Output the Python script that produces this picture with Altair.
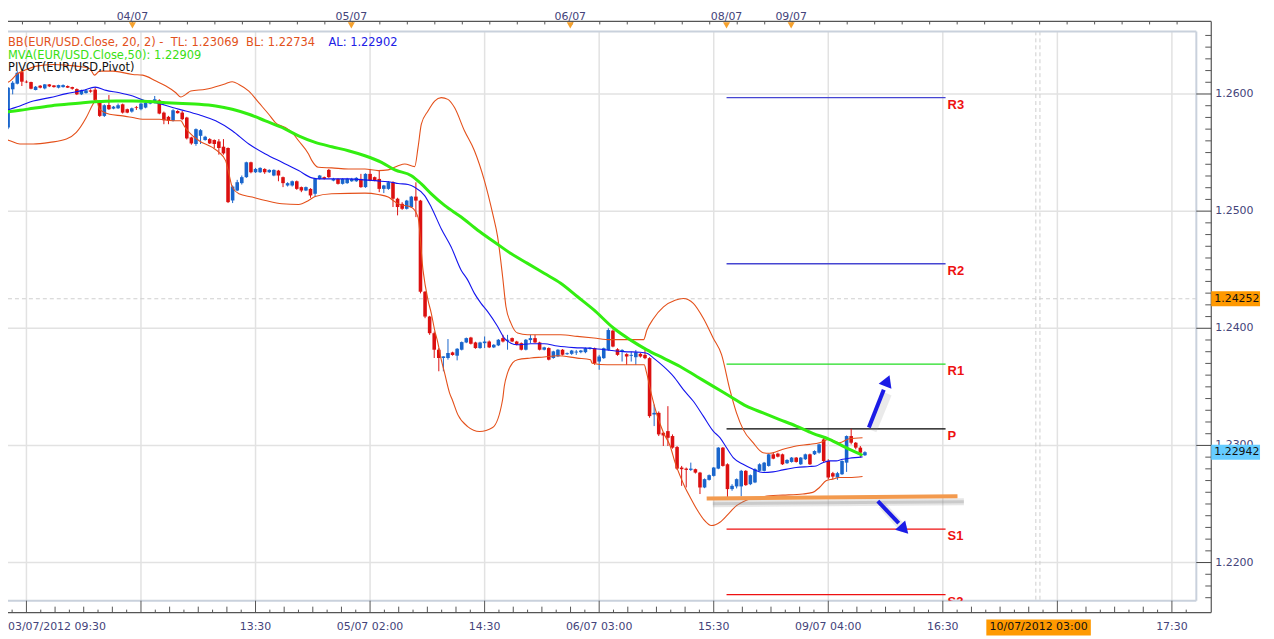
import altair as alt
import pandas as pd

# ---------------- data ----------------
bar_open = [1.25841, 1.25714, 1.26040, 1.26088, 1.26187, 1.26105, 1.26102, 1.26034, 1.26071, 1.26048,
 1.26082, 1.26073, 1.26054, 1.26059, 1.26068, 1.26059, 1.26042, 1.25997, 1.26008, 1.26031,
 1.26037, 1.25940, 1.25813, 1.25906, 1.25875, 1.25878, 1.25912, 1.25870, 1.25850, 1.25887,
 1.25870, 1.25884, 1.25918, 1.25926, 1.25946, 1.25841, 1.25805, 1.25771, 1.25855, 1.25841,
 1.25799, 1.25629, 1.25573, 1.25643, 1.25607, 1.25615, 1.25607, 1.25595, 1.25550, 1.25539,
 1.25091, 1.25176, 1.25239, 1.25290, 1.25417, 1.25332, 1.25332, 1.25360, 1.25332, 1.25304,
 1.25346, 1.25290, 1.25219, 1.25219, 1.25255, 1.25205, 1.25176, 1.25190, 1.25148, 1.25275,
 1.25290, 1.25352, 1.25261, 1.25275, 1.25233, 1.25239, 1.25255, 1.25255, 1.25275, 1.25205,
 1.25318, 1.25290, 1.25275, 1.25190, 1.25190, 1.25247, 1.25106, 1.25062, 1.25020, 1.25034,
 1.25124, 1.25090, 1.24312, 1.24100, 1.23958, 1.23817, 1.23746, 1.23746, 1.23794, 1.23766,
 1.23817, 1.23879, 1.23921, 1.23879, 1.23831, 1.23873, 1.23887, 1.23837, 1.23854, 1.23916,
 1.23893, 1.23916, 1.23887, 1.23873, 1.23817, 1.23899, 1.23916, 1.23879, 1.23817, 1.23831,
 1.23746, 1.23760, 1.23817, 1.23779, 1.23782, 1.23793, 1.23796, 1.23796, 1.23824, 1.23830,
 1.23716, 1.23745, 1.23815, 1.23980, 1.23821, 1.23801, 1.23779, 1.23765, 1.23753, 1.23782,
 1.23773, 1.23745, 1.23264, 1.23278, 1.23108, 1.23122, 1.23080, 1.22986, 1.22811, 1.22802,
 1.22791, 1.22797, 1.22768, 1.22641, 1.22706, 1.22740, 1.22802, 1.22981, 1.22839, 1.22627,
 1.22650, 1.22650, 1.22783, 1.22669, 1.22684, 1.22783, 1.22783, 1.22825, 1.22924, 1.22930,
 1.22924, 1.22848, 1.22859, 1.22896, 1.22839, 1.22882, 1.22924, 1.22924, 1.22938, 1.23051,
 1.22867, 1.22763, 1.22726, 1.22754, 1.22853, 1.23080, 1.23023, 1.22981, 1.22916]

bar_high = [1.25855, 1.26059, 1.26110, 1.26195, 1.26195, 1.26116, 1.26105, 1.26068, 1.26076, 1.26085,
 1.26085, 1.26076, 1.26079, 1.26082, 1.26073, 1.26062, 1.26048, 1.26037, 1.26040, 1.26040,
 1.26059, 1.25946, 1.25912, 1.25991, 1.25898, 1.25918, 1.25918, 1.25875, 1.25884, 1.25898,
 1.25926, 1.25935, 1.25946, 1.25983, 1.25955, 1.25850, 1.25813, 1.25870, 1.25861, 1.25855,
 1.25805, 1.25635, 1.25706, 1.25700, 1.25643, 1.25623, 1.25612, 1.25615, 1.25615, 1.25544,
 1.25219, 1.25267, 1.25304, 1.25422, 1.25422, 1.25369, 1.25374, 1.25366, 1.25357, 1.25357,
 1.25352, 1.25295, 1.25247, 1.25261, 1.25261, 1.25210, 1.25210, 1.25196, 1.25284, 1.25309,
 1.25295, 1.25360, 1.25284, 1.25281, 1.25281, 1.25284, 1.25284, 1.25290, 1.25318, 1.25323,
 1.25360, 1.25295, 1.25346, 1.25224, 1.25255, 1.25255, 1.25114, 1.25076, 1.25096, 1.25130,
 1.25246, 1.25096, 1.24318, 1.24106, 1.23972, 1.23831, 1.23760, 1.23908, 1.23800, 1.23831,
 1.23887, 1.23921, 1.23927, 1.23885, 1.23885, 1.23930, 1.23896, 1.23865, 1.23908, 1.23944,
 1.23944, 1.23921, 1.23893, 1.23879, 1.23908, 1.23944, 1.23944, 1.23885, 1.23842, 1.23837,
 1.23808, 1.23822, 1.23822, 1.23793, 1.23815, 1.23815, 1.23815, 1.23835, 1.23838, 1.23835,
 1.23773, 1.23835, 1.24000, 1.23990, 1.23830, 1.23821, 1.23787, 1.23801, 1.23815, 1.23790,
 1.23821, 1.23753, 1.23349, 1.23290, 1.23113, 1.23335, 1.23094, 1.22995, 1.22825, 1.22811,
 1.22853, 1.22802, 1.22774, 1.22718, 1.22752, 1.22816, 1.22986, 1.22986, 1.22847, 1.22669,
 1.22718, 1.22791, 1.22789, 1.22752, 1.22805, 1.22847, 1.22859, 1.22930, 1.22944, 1.22938,
 1.22930, 1.22882, 1.22901, 1.22901, 1.22901, 1.22930, 1.22930, 1.22958, 1.23015, 1.23066,
 1.22882, 1.22774, 1.22774, 1.22873, 1.23085, 1.23142, 1.23029, 1.22995, 1.22950]

bar_low = [1.25657, 1.25700, 1.25997, 1.26082, 1.26068, 1.26093, 1.26040, 1.26031, 1.26048, 1.26040,
 1.26059, 1.26054, 1.26048, 1.26054, 1.26051, 1.26037, 1.25991, 1.25991, 1.26003, 1.26011,
 1.25940, 1.25804, 1.25804, 1.25864, 1.25870, 1.25872, 1.25833, 1.25836, 1.25841, 1.25864,
 1.25861, 1.25878, 1.25912, 1.25921, 1.25827, 1.25742, 1.25742, 1.25765, 1.25833, 1.25776,
 1.25612, 1.25567, 1.25558, 1.25573, 1.25601, 1.25573, 1.25539, 1.25482, 1.25482, 1.25069,
 1.25069, 1.25171, 1.25227, 1.25284, 1.25323, 1.25326, 1.25326, 1.25318, 1.25326, 1.25298,
 1.25255, 1.25205, 1.25210, 1.25210, 1.25182, 1.25162, 1.25171, 1.25114, 1.25120, 1.25270,
 1.25270, 1.25284, 1.25255, 1.25227, 1.25227, 1.25233, 1.25250, 1.25250, 1.25199, 1.25199,
 1.25255, 1.25255, 1.25162, 1.25154, 1.25182, 1.25035, 1.24964, 1.25011, 1.25014, 1.25028,
 1.24949, 1.24298, 1.24086, 1.23944, 1.23746, 1.23633, 1.23633, 1.23732, 1.23766, 1.23726,
 1.23811, 1.23873, 1.23862, 1.23825, 1.23825, 1.23831, 1.23831, 1.23831, 1.23848, 1.23879,
 1.23817, 1.23882, 1.23854, 1.23811, 1.23811, 1.23873, 1.23873, 1.23811, 1.23811, 1.23726,
 1.23740, 1.23754, 1.23768, 1.23773, 1.23773, 1.23773, 1.23787, 1.23787, 1.23818, 1.23688,
 1.23646, 1.23739, 1.23810, 1.23838, 1.23765, 1.23716, 1.23688, 1.23716, 1.23688, 1.23750,
 1.23736, 1.23236, 1.23165, 1.23080, 1.22995, 1.22995, 1.22972, 1.22790, 1.22655, 1.22641,
 1.22782, 1.22760, 1.22585, 1.22635, 1.22700, 1.22734, 1.22797, 1.22819, 1.22556, 1.22613,
 1.22633, 1.22565, 1.22655, 1.22661, 1.22678, 1.22777, 1.22777, 1.22819, 1.22882, 1.22898,
 1.22833, 1.22842, 1.22853, 1.22853, 1.22833, 1.22876, 1.22833, 1.22918, 1.22930, 1.22853,
 1.22712, 1.22712, 1.22706, 1.22748, 1.22774, 1.23009, 1.22967, 1.22896, 1.22910]

bar_close = [1.25714, 1.26054, 1.26096, 1.26181, 1.26105, 1.26099, 1.26045, 1.26062, 1.26054, 1.26082,
 1.26065, 1.26059, 1.26076, 1.26076, 1.26054, 1.26045, 1.25997, 1.26031, 1.26031, 1.26020,
 1.25946, 1.25813, 1.25904, 1.25870, 1.25892, 1.25904, 1.25841, 1.25841, 1.25878, 1.25881,
 1.25918, 1.25926, 1.25940, 1.25955, 1.25833, 1.25776, 1.25771, 1.25861, 1.25836, 1.25785,
 1.25621, 1.25578, 1.25700, 1.25691, 1.25635, 1.25578, 1.25573, 1.25539, 1.25493, 1.25077,
 1.25210, 1.25247, 1.25290, 1.25417, 1.25332, 1.25360, 1.25369, 1.25332, 1.25352, 1.25352,
 1.25304, 1.25239, 1.25239, 1.25255, 1.25190, 1.25176, 1.25205, 1.25134, 1.25275, 1.25304,
 1.25275, 1.25290, 1.25275, 1.25233, 1.25275, 1.25275, 1.25275, 1.25284, 1.25205, 1.25318,
 1.25261, 1.25261, 1.25190, 1.25219, 1.25247, 1.25106, 1.25035, 1.25020, 1.25090, 1.25124,
 1.25090, 1.24312, 1.24100, 1.23958, 1.23817, 1.23746, 1.23760, 1.23789, 1.23772, 1.23825,
 1.23882, 1.23916, 1.23868, 1.23831, 1.23879, 1.23887, 1.23837, 1.23859, 1.23902, 1.23887,
 1.23902, 1.23887, 1.23859, 1.23817, 1.23902, 1.23916, 1.23879, 1.23817, 1.23837, 1.23732,
 1.23803, 1.23817, 1.23774, 1.23787, 1.23810, 1.23801, 1.23810, 1.23830, 1.23835, 1.23702,
 1.23759, 1.23830, 1.23985, 1.23844, 1.23773, 1.23815, 1.23759, 1.23773, 1.23793, 1.23759,
 1.23745, 1.23250, 1.23278, 1.23094, 1.23085, 1.23065, 1.22981, 1.22802, 1.22797, 1.22791,
 1.22802, 1.22768, 1.22641, 1.22712, 1.22746, 1.22811, 1.22981, 1.22825, 1.22627, 1.22655,
 1.22712, 1.22783, 1.22661, 1.22746, 1.22797, 1.22839, 1.22853, 1.22924, 1.22887, 1.22904,
 1.22839, 1.22876, 1.22896, 1.22859, 1.22896, 1.22924, 1.22839, 1.22952, 1.23009, 1.22867,
 1.22726, 1.22734, 1.22763, 1.22867, 1.23080, 1.23023, 1.22981, 1.22938, 1.22942]

bb_upper_bar = [-0.76, 1.41, 2.86, 5.03, 7.2, 10.82, 15.89, 18.79, 19.87, 20.96, 23.86, 28.2, 30.37, 33.27,
 35.44, 37.61, 38.7, 39.78, 40.87, 44.13, 48.47, 49.92, 51.37, 53.54, 55.71, 57.88, 59.33, 61.5, 62.95,
 64.4, 66.57, 67.3, 68.74, 71.64, 75.26, 78.88, 81.78, 83.95, 86.12, 87.57, 89.74, 90.47, 91.19, 92.64,
 94.09, 95.54, 96.98, 98.43, 100.6, 102.78, 104.95, 106.76, 107.84, 108.93, 109.65, 110.74, 112.19,
 114.36, 117.98, 121.6, 125.22, 128.84, 132.46, 136.8, 139.7, 140.42, 141.87, 144.04, 146.57, 148.38,
 150.55, 152.73, 154.9, 156.71, 158.52, 159.97, 161.42, 163.59, 165.76, 167.21, 170.1, 173.0, 175.9,
 178.07, 180.24, 182.41, 184.58, 187.48]
bb_upper_val = [1.26082, 1.26110, 1.26167, 1.26209, 1.26238, 1.26252, 1.26238, 1.26218, 1.26161, 1.26195,
 1.26195, 1.26167, 1.26161, 1.26110, 1.26068, 1.26011, 1.25974, 1.25997, 1.26025, 1.26040, 1.26088,
 1.26105, 1.26082, 1.26025, 1.25926, 1.25827, 1.25756, 1.25714, 1.25672, 1.25601, 1.25488, 1.25431,
 1.25374, 1.25369, 1.25360, 1.25360, 1.25346, 1.25352, 1.25388, 1.25403, 1.25380, 1.25544, 1.25742,
 1.25855, 1.25940, 1.25969, 1.25954, 1.25884, 1.25686, 1.25516, 1.25261, 1.24978, 1.24780, 1.24440,
 1.24186, 1.24044, 1.23959, 1.23945, 1.23945, 1.23945, 1.23931, 1.23917, 1.23903, 1.23903, 1.23903,
 1.23985, 1.24084, 1.24183, 1.24240, 1.24254, 1.24212, 1.24085, 1.23915, 1.23775, 1.23476, 1.23278,
 1.23137, 1.23023, 1.22938, 1.22933, 1.22967, 1.22995, 1.23009, 1.23023, 1.23052, 1.23023, 1.23057,
 1.23066]

bb_lower_bar = [-0.76, 1.41, 3.58, 6.48, 10.1, 13.72, 15.89, 18.06, 19.51, 20.24, 20.96, 23.13, 26.03,
 28.2, 30.37, 34.0, 36.89, 38.7, 39.42, 40.51, 42.68, 45.58, 47.03, 48.47, 49.2, 49.92, 51.37, 54.27,
 57.16, 60.78, 64.4, 66.57, 68.02, 71.64, 78.88, 81.78, 83.95, 85.03, 86.12, 89.02, 90.46, 91.55,
 92.64, 93.36, 94.08, 94.81, 95.53, 96.26, 97.34, 97.92, 99.15, 101.3, 103.9, 106.75, 108.93, 109.29,
 110.01, 111.1, 112.18, 115.08, 117.98, 120.87, 125.21, 128.11, 128.47, 131.73, 139.84, 140.27, 141.5,
 142.59, 144.04, 145.49, 146.57, 147.66, 148.75, 149.83, 151.28, 152.73, 154.54, 156.35, 158.52,
 159.97, 161.42, 162.86, 165.04, 167.21, 170.1, 174.45, 176.62, 178.07, 179.52, 180.96, 182.41,
 184.58, 187.48]
bb_lower_val = [1.25629, 1.25601, 1.25573, 1.25573, 1.25587, 1.25615, 1.25672, 1.25799, 1.25912, 1.25955,
 1.25870, 1.25827, 1.25813, 1.25799, 1.25785, 1.25785, 1.25771, 1.25771, 1.25728, 1.25672, 1.25601,
 1.25544, 1.25502, 1.25431, 1.25318, 1.25205, 1.25148, 1.25120, 1.25091, 1.25063, 1.25057, 1.25091,
 1.25125, 1.25148, 1.25154, 1.25142, 1.25120, 1.25091, 1.25062, 1.25034, 1.24949, 1.24496, 1.24241,
 1.24128, 1.23987, 1.23873, 1.23732, 1.23619, 1.23449, 1.23392, 1.23263, 1.23161, 1.23119, 1.23153,
 1.23392, 1.23505, 1.23619, 1.23704, 1.23732, 1.23746, 1.23755, 1.23766, 1.23745, 1.23731, 1.23702,
 1.23688, 1.23688, 1.23632, 1.23420, 1.23264, 1.23108, 1.22995, 1.22853, 1.22740, 1.22641, 1.22560,
 1.22457, 1.22372, 1.22316, 1.22344, 1.22429, 1.22486, 1.22520, 1.22542, 1.22556, 1.22571, 1.22576,
 1.22585, 1.22599, 1.22641, 1.22698, 1.22712, 1.22726, 1.22726, 1.22734]

sma20_bar = [-0.76, 1.41, 3.58, 6.48, 10.1, 13.72, 17.34, 20.02, 22.41, 25.3, 28.2, 31.1, 34.0, 36.89,
 39.78, 42.68, 46.3, 49.92, 53.54, 57.16, 60.78, 64.4, 67.3, 68.74, 71.64, 75.26, 78.88, 82.5, 84.67,
 86.12, 88.29, 89.74, 91.91, 93.36, 95.53, 97.7, 99.88, 101.32, 102.77, 104.22, 105.67, 107.84, 109.29,
 110.74, 112.18, 115.08, 117.98, 120.87, 124.49, 128.11, 131.73, 135.35, 138.97, 140.42, 141.87,
 144.04, 146.21, 148.38, 150.56, 152.73, 154.9, 156.35, 157.8, 159.25, 161.42, 163.59, 165.76,
 167.93, 170.1, 173.0, 175.9, 177.35, 178.79, 180.24, 181.69, 183.14, 184.58, 187.48]
sma20_val = [1.25841, 1.25870, 1.25898, 1.25940, 1.25969, 1.26003, 1.26031, 1.26059, 1.26031, 1.26011,
 1.25983, 1.25940, 1.25918, 1.25884, 1.25855, 1.25822, 1.25771, 1.25686, 1.25573, 1.25488, 1.25417,
 1.25346, 1.25284, 1.25275, 1.25275, 1.25275, 1.25267, 1.25255, 1.25247, 1.25236, 1.25227, 1.25204,
 1.25133, 1.25034, 1.24850, 1.24694, 1.24496, 1.24411, 1.24298, 1.24213, 1.24142, 1.24015, 1.23916,
 1.23873, 1.23859, 1.23868, 1.23868, 1.23848, 1.23835, 1.23830, 1.23815, 1.23801, 1.23796, 1.23787,
 1.23745, 1.23674, 1.23589, 1.23476, 1.23377, 1.23250, 1.23122, 1.23066, 1.22980, 1.22896, 1.22839,
 1.22797, 1.22769, 1.22774, 1.22791, 1.22811, 1.22820, 1.22825, 1.22853, 1.22868, 1.22868, 1.22882,
 1.22890, 1.22902]

sma50_bar = [-0.76, 3.58, 6.48, 10.1, 13.72, 17.34, 20.96, 24.58, 28.2, 31.82, 35.44, 39.06, 42.68, 46.3,
 49.92, 53.54, 57.16, 60.78, 64.4, 68.02, 71.64, 75.26, 78.88, 82.5, 85.4, 89.02, 91.19, 93.36, 96.26,
 99.88, 103.5, 107.12, 110.74, 114.36, 117.98, 121.6, 125.22, 128.84, 133.18, 136.8, 140.42, 144.04,
 147.66, 151.28, 154.9, 158.52, 162.14, 165.76, 169.38, 173.0, 176.62, 180.24, 183.86, 187.48]
sma50_val = [1.25841, 1.25861, 1.25878, 1.25898, 1.25912, 1.25926, 1.25935, 1.25940, 1.25940, 1.25935,
 1.25926, 1.25918, 1.25912, 1.25898, 1.25870, 1.25827, 1.25771, 1.25714, 1.25643, 1.25587, 1.25550,
 1.25516, 1.25473, 1.25417, 1.25352, 1.25303, 1.25233, 1.25148, 1.25049, 1.24950, 1.24837, 1.24737,
 1.24638, 1.24554, 1.24469, 1.24384, 1.24271, 1.24157, 1.24000, 1.23901, 1.23816, 1.23745, 1.23674,
 1.23589, 1.23504, 1.23420, 1.23335, 1.23278, 1.23221, 1.23165, 1.23103, 1.23052, 1.22981, 1.22916]

pivot_names = ["R3", "R2", "R1", "P", "S1", "S2"]
pivot_values = [1.25969, 1.24551, 1.23694, 1.23142, 1.22286, 1.21726]
pivot_colors = ["#4646d2", "#4646d2", "#22dd22", "#000000", "#ee1111", "#ee1111"]
pivot_from, pivot_to = 157.8, 205.6

support_bar = [153.46, 208.2]
support_val = [1.22547, 1.22567]
support_shadow_bar = [154.8, 209.6]
support_shadow_val = [1.22502, 1.22519]

arrow_id = ["up", "up", "down", "down"]
arrow_bar = [188.86, 192.11, 190.82, 195.38]
arrow_val = [1.23153, 1.23476, 1.22524, 1.22337]
arrow_shadow_bar = [189.7, 193.0, 191.7, 196.6]
arrow_shadow_val = [1.23125, 1.23440, 1.22490, 1.22280]
head_bar = [192.88, 196.57]
head_val = [1.23552, 1.22282]
head_angle = [22, 137]

price_ticks = [1.22, 1.23, 1.24, 1.25, 1.26]
time_tick_bars = [5, 30, 55, 80, 105, 130, 155, 180, 205, 230, 255]
time_label_bars = [55, 80, 105, 130, 155, 180, 205, 255]
time_labels = ["13:30", "05/07 02:00", "14:30", "06/07 03:00", "15:30", "09/07 04:00", "16:30", "17:30"]
first_time_label = "03/07/2012 09:30"
day_bars = [28.13, 75.91, 123.7, 157.8, 171.9]
day_labels = ["04/07", "05/07", "06/07", "08/07", "09/07"]

cross_price = 1.24252
cross_bars = [225.3, 226.2]
cross_label = "10/07/2012 03:00"
last_price = 1.22942

hdr_bb = "BB(EUR/USD.Close, 20, 2) -\u00a0 TL: 1.23069\u00a0 BL: 1.22734"
hdr_al = "AL: 1.22902"
hdr_mva = "MVA(EUR/USD.Close,50): 1.22909"
hdr_piv = "PIVOT(EUR/USD,Pivot)"

# ---------------- chart ----------------
W, H = 1194, 572
FONT = "DejaVu Sans"
AXC = "#44447a"
XS = alt.Scale(domain=[0.977, 260.33], nice=False, zero=False)
YS = alt.Scale(domain=[1.216746, 1.265344], nice=False, zero=False)


def xq(f="bar"):
    return alt.X(f"{f}:Q", scale=XS, axis=None)


def yq(f="val"):
    return alt.Y(f"{f}:Q", scale=YS, axis=None)


dummy = pd.DataFrame({"k": [0]})


def fixed_rule(color, width, **enc):
    return alt.Chart(dummy).mark_rule(color=color, strokeWidth=width).encode(
        **{k: alt.value(v) for k, v in enc.items()})


def series(xs, ys):
    return pd.DataFrame({"bar": xs, "val": ys})


layers = []

# grid
ptick = pd.DataFrame({"val": price_ticks, "lab": [f"{p:.4f}" for p in price_ticks]})
layers.append(alt.Chart(ptick).mark_rule(color="#e2e2e2", strokeWidth=1.5).encode(y=yq()))
layers.append(alt.Chart(pd.DataFrame({"bar": time_tick_bars})).mark_rule(
    color="#e2e2e2", strokeWidth=1.5).encode(x=xq()))
# crosshair
layers.append(alt.Chart(pd.DataFrame({"val": [cross_price]})).mark_rule(
    color="#cfcfcf", strokeDash=[4, 3], strokeWidth=1).encode(y=yq()))
layers.append(alt.Chart(pd.DataFrame({"bar": cross_bars})).mark_rule(
    color="#cfcfcf", strokeDash=[4, 3], strokeWidth=1).encode(x=xq()))

# plot frame (light) and outer axis lines (dark)
layers.append(fixed_rule("#c9d1dc", 2, x=0, x2=W, y=0))
layers.append(fixed_rule("#c9d1dc", 2, x=W, y=0, y2=H))
layers.append(fixed_rule("#c9d1dc", 2, x=0, x2=W, y=H))
layers.append(fixed_rule("#555555", 1.2, x=0, x2=W + 15, y=-10))
layers.append(fixed_rule("#555555", 1.2, x=W + 15, y=-10, y2=H + 12))
layers.append(fixed_rule("#555555", 1.2, x=0, x2=W + 15, y=H + 12))

# right price axis: major ticks, minor ticks, labels
layers.append(alt.Chart(ptick).mark_rule(color="#444444", strokeWidth=1).encode(
    x=alt.value(W), x2=alt.value(W + 15), y=yq()))
minor_prices = [round(1.217 + 0.001 * k, 3) for k in range(49)]
minor_prices = [p for p in minor_prices if abs(p * 100 - round(p * 100)) > 1e-6]
layers.append(alt.Chart(pd.DataFrame({"val": minor_prices})).mark_rule(
    color="#555555", strokeWidth=1).encode(x=alt.value(W + 9), x2=alt.value(W + 15), y=yq()))
layers.append(alt.Chart(ptick).mark_text(align="left", baseline="middle", fontSize=11, font=FONT,
                                         color=AXC).encode(
    x=alt.value(W + 19), y=yq(), text="lab:N"))

# bottom time ticks
layers.append(alt.Chart(pd.DataFrame({"bar": time_tick_bars})).mark_rule(
    color="#555555", strokeWidth=1).encode(x=xq(), y=alt.value(H), y2=alt.value(H + 12)))
mb, my = [], []
for j in range(-2, 82):
    if j % 8 == 0:
        continue
    b = 5 + 25 * j / 8
    if 0.98 < b < 260.3:
        mb.append(b)
        my.append(H + 9 if j % 2 else H + 6)
layers.append(alt.Chart(pd.DataFrame({"bar": mb, "y0": my})).mark_rule(
    color="#555555", strokeWidth=1).encode(
    x=xq(), y=alt.Y("y0:Q", scale=None), y2=alt.value(H + 12)))

# top ticks
tb = [28.13 + 6 * k for k in range(-4, 40) if 0.98 < 28.13 + 6 * k < 260.3]
layers.append(alt.Chart(pd.DataFrame({"bar": tb})).mark_rule(
    color="#555555", strokeWidth=1).encode(x=xq(), y=alt.value(-10), y2=alt.value(-7)))
layers.append(alt.Chart(pd.DataFrame({"bar": day_bars, "lab": day_labels})).mark_text(
    fontSize=11, font=FONT, color=AXC, align="center").encode(
    x=xq(), y=alt.value(-14), text="lab:N"))
layers.append(alt.Chart(pd.DataFrame({"bar": day_bars})).mark_point(
    shape="triangle-down", filled=True, size=50, color="#f6a12c", opacity=1).encode(
    x=xq(), y=alt.value(-6)))

# pivot lines
pv = pd.DataFrame({"name": pivot_names, "val": pivot_values, "col": pivot_colors,
                   "x0": [pivot_from] * 6, "x1": [pivot_to] * 6})
layers.append(alt.Chart(pv).mark_rule(strokeWidth=1.3).encode(
    x=xq("x0"), x2=alt.X2("x1"), y=yq(), color=alt.Color("col:N", scale=None)))

# candles
candles = pd.DataFrame({"bar": list(range(len(bar_open))), "open": bar_open,
                        "high": bar_high, "low": bar_low, "close": bar_close})
candles["dir"] = ["up" if c >= o else "down" for o, c in zip(bar_open, bar_close)]
ccol = alt.Color("dir:N", scale=alt.Scale(domain=["up", "down"], range=["#1a66cc", "#dc1010"]),
                 legend=None)
layers.append(alt.Chart(candles).mark_rule(strokeWidth=1).encode(
    x=xq(), y=yq("low"), y2=alt.Y2("high:Q"), color=ccol))
layers.append(alt.Chart(candles).mark_rule(strokeWidth=3.6, strokeCap="butt").encode(
    x=xq(), y=yq("open"), y2=alt.Y2("close:Q"), color=ccol))

# indicator lines
layers.append(alt.Chart(series(bb_upper_bar, bb_upper_val)).mark_line(
    color="#e4501a", strokeWidth=1.1, interpolate="monotone").encode(x=xq(), y=yq()))
layers.append(alt.Chart(series(bb_lower_bar, bb_lower_val)).mark_line(
    color="#e4501a", strokeWidth=1.1, interpolate="monotone").encode(x=xq(), y=yq()))
layers.append(alt.Chart(series(sma20_bar, sma20_val)).mark_line(
    color="#1414ee", strokeWidth=1.1, interpolate="monotone").encode(x=xq(), y=yq()))
layers.append(alt.Chart(series(sma50_bar, sma50_val)).mark_line(
    color="#33ee11", strokeWidth=3, interpolate="monotone").encode(x=xq(), y=yq()))

# support line with soft shadow
layers.append(alt.Chart(series(support_shadow_bar, support_shadow_val)).mark_line(
    color="#8c8c8c", strokeWidth=7, opacity=0.22).encode(x=xq(), y=yq()))
layers.append(alt.Chart(series(support_shadow_bar, support_shadow_val)).mark_line(
    color="#8c8c8c", strokeWidth=3, opacity=0.3).encode(x=xq(), y=yq()))
layers.append(alt.Chart(series(support_bar, support_val)).mark_line(
    color="#f39a4e", strokeWidth=4).encode(x=xq(), y=yq()))

# arrows with soft shadows
ash = pd.DataFrame({"id": arrow_id, "bar": arrow_shadow_bar, "val": arrow_shadow_val})
layers.append(alt.Chart(ash).mark_line(color="#8c8c8c", strokeWidth=8, opacity=0.18).encode(
    x=xq(), y=yq(), detail="id:N"))
arr = pd.DataFrame({"id": arrow_id, "bar": arrow_bar, "val": arrow_val})
layers.append(alt.Chart(arr).mark_line(color="#1c1ce6", strokeWidth=4).encode(
    x=xq(), y=yq(), detail="id:N"))
heads = pd.DataFrame({"bar": head_bar, "val": head_val, "ang": head_angle})
layers.append(alt.Chart(heads).mark_point(shape="triangle-up", filled=True, size=190,
                                          color="#1c1ce6", opacity=1).encode(
    x=xq(), y=yq(), angle=alt.Angle("ang:Q", scale=None)))

# pivot labels
layers.append(alt.Chart(pv).mark_text(align="left", baseline="middle", dx=2, dy=7,
                                      fontSize=13, fontWeight="bold", font="Liberation Sans",
                                      color="#ee1111", clip=True).encode(
    x=xq("x1"), y=yq(), text="name:N"))

# header texts
layers.append(alt.Chart(dummy).mark_text(text=hdr_bb, align="left", fontSize=11.5, font=FONT,
                                         color="#e2521c").encode(x=alt.value(0), y=alt.value(12)))
layers.append(alt.Chart(dummy).mark_text(text=hdr_al, align="left", fontSize=11.5, font=FONT,
                                         color="#2020e6").encode(x=alt.value(322), y=alt.value(12)))
layers.append(alt.Chart(dummy).mark_text(text=hdr_mva, align="left", fontSize=11.5, font=FONT,
                                         color="#3ae014").encode(x=alt.value(0), y=alt.value(25)))
layers.append(alt.Chart(dummy).mark_text(text=hdr_piv, align="left", fontSize=11.5, font=FONT,
                                         color="#111111").encode(x=alt.value(0), y=alt.value(37)))

# bottom time labels
layers.append(alt.Chart(pd.DataFrame({"bar": time_label_bars, "lab": time_labels})).mark_text(
    fontSize=11, font=FONT, color=AXC, align="center", baseline="middle").encode(
    x=xq(), y=alt.value(H + 26), text="lab:N"))
layers.append(alt.Chart(dummy).mark_text(text=first_time_label, fontSize=11, font=FONT, color=AXC,
                                         align="left", baseline="middle").encode(
    x=alt.value(0), y=alt.value(H + 26)))
layers.append(fixed_rule("#ff9900", 16, x=983, x2=1088, y=H + 27))
layers.append(alt.Chart(dummy).mark_text(text=cross_label, fontSize=11, font=FONT, color="#111111",
                                         align="center", baseline="middle").encode(
    x=alt.value(1035.5), y=alt.value(H + 26)))

# current-price boxes on the right axis
boxes = pd.DataFrame({"val": [cross_price, last_price], "col": ["#ff9900", "#66ccff"],
                      "lab": ["1.24252", "1.22942"]})
layers.append(alt.Chart(boxes).mark_rule(strokeWidth=15, strokeCap="butt").encode(
    x=alt.value(W + 15), x2=alt.value(W + 64), y=yq(), color=alt.Color("col:N", scale=None)))
layers.append(alt.Chart(boxes).mark_text(align="left", baseline="middle", fontSize=11, font=FONT,
                                         color="#111111").encode(
    x=alt.value(W + 18), y=yq(), text="lab:N"))

chart = alt.layer(*layers).properties(
    width=W, height=H,
    autosize=alt.AutoSizeParams(type="none"),
    padding={"left": 0, "top": 22, "right": 70, "bottom": 37},
    background="white",
).configure_view(strokeWidth=0)

chart.save("out.html", embed_options={"renderer": "svg", "actions": False})
